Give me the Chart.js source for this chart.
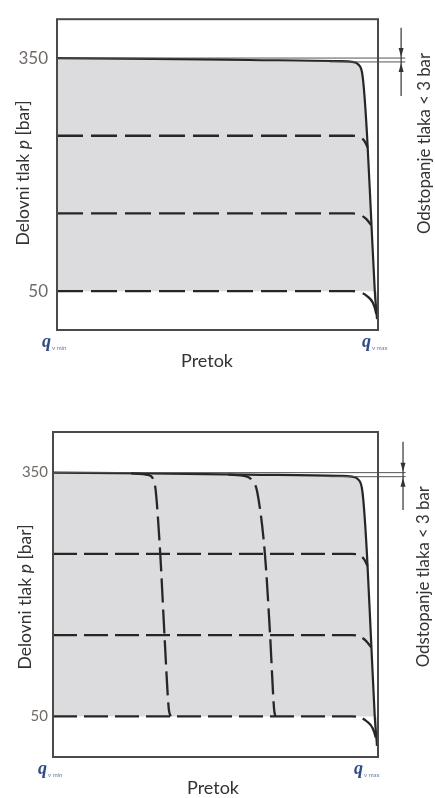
<!DOCTYPE html>
<html>
<head>
<meta charset="utf-8">
<script src="https://cdn.jsdelivr.net/npm/chart.js@4.4.1/dist/chart.umd.min.js"></script>
<style>
  body { margin: 0; background: #fff; }
  canvas { position: absolute; left: 0; }
  #c1 { top: 0; }
  #c2 { top: 400px; }
</style>
</head>
<body>
<canvas id="c1" width="435" height="390"></canvas>
<canvas id="c2" width="435" height="398"></canvas>
<script>
// pressure axis (bar) and flow axis (% of q_v max)
const yTicks = [50, 350];
const xTicks = [0, 100];
const xTickSubs = ['v min', 'v max'];

// main envelope (solid), same shape on both charts
const envX = [0, 30, 60, 88, 92, 93.8, 95, 95.6, 96.6, 97.8, 99, 99.7];
const envY = [350, 349, 347.5, 346, 345, 342, 332, 311, 250, 150, 50, 14];

// dashed pressure levels
const lvl250X = [0, 92, 94.5, 95.8, 96.8];
const lvl250Y = [250, 250, 248, 243, 235];
const lvl150X = [0, 92, 94.5, 96.3, 97.9];
const lvl150Y = [150, 150, 148, 143, 135];
const lvl50X = [0, 92, 94.5, 96.5, 98.4, 99.4, 99.7];
const lvl50Y = [50, 50, 48.5, 44, 35, 22, 14];

// dashed flow limits (bottom chart only)
const flow1X = [24, 29.5, 31, 31.6, 33, 34.3, 35.6, 36.2];
const flow1Y = [349, 347, 340, 328, 250, 150, 60, 50];
const flow2X = [54, 59.5, 61.5, 62.8, 65.2, 66.8, 68, 68.4];
const flow2Y = [347.5, 345.5, 339, 327, 250, 150, 60, 50];

// deviation band (< 3 bar)
const bandHighX = [0, 108.5];
const bandHighY = [350, 350];
const bandLowX = [85, 108.5];
const bandLowY = [345, 345];

const pts = (xs, ys) => xs.map((x, i) => ({ x: x, y: ys[i] }));

const decor = {
  id: 'decor',
  afterDatasetsDraw(chart, args, o) {
    const { ctx, chartArea: a, scales: { x, y } } = chart;
    ctx.save();
    // frame
    ctx.strokeStyle = '#4a4a4a';
    ctx.lineWidth = 2;
    ctx.strokeRect(a.left, a.top, a.right - a.left, a.bottom - a.top);

    // deviation marker with arrows
    const ax = x.getPixelForValue(o.arrowX);
    const yHi = y.getPixelForValue(bandHighY[0]);
    const yLo = y.getPixelForValue(bandLowY[0]);
    ctx.strokeStyle = '#333';
    ctx.fillStyle = '#333';
    ctx.lineWidth = 1.2;
    ctx.beginPath();
    ctx.moveTo(ax, y.getPixelForValue(o.arrowTop));
    ctx.lineTo(ax, y.getPixelForValue(o.arrowBottom));
    ctx.stroke();
    ctx.beginPath();
    ctx.moveTo(ax, yHi - 1); ctx.lineTo(ax - 2.5, yHi - 10); ctx.lineTo(ax + 2.5, yHi - 10);
    ctx.closePath(); ctx.fill();
    ctx.beginPath();
    ctx.moveTo(ax, yLo + 1); ctx.lineTo(ax - 2.5, yLo + 10); ctx.lineTo(ax + 2.5, yLo + 10);
    ctx.closePath(); ctx.fill();

    // x title
    ctx.fillStyle = '#333';
    ctx.textAlign = 'center';
    ctx.textBaseline = 'middle';
    ctx.font = '18px Lato';
    ctx.fillText('Pretok', o.xTitleX, a.bottom + 31);

    // q_v min / q_v max
    xTicks.forEach((v, i) => {
      const px = x.getPixelForValue(v) - o.qShift[i];
      ctx.textAlign = 'left';
      ctx.textBaseline = 'alphabetic';
      ctx.fillStyle = '#2e4a8e';
      ctx.font = 'italic bold 18px "Liberation Serif"';
      ctx.fillText('q', px, a.bottom + 17);
      const w = ctx.measureText('q').width;
      ctx.fillStyle = '#6b7aa8';
      ctx.font = '6px Lato';
      ctx.fillText(xTickSubs[i], px + w + 1, a.bottom + 20);
    });

    // y title with italic p
    const parts = [['Delovni tlak ', ''], ['p', 'italic '], [' [bar]', '']];
    ctx.save();
    ctx.translate(o.yTitleX, o.yTitleY);
    ctx.rotate(-Math.PI / 2);
    ctx.fillStyle = '#333';
    ctx.textBaseline = 'middle';
    ctx.textAlign = 'left';
    let total = 0;
    parts.forEach(([t, s]) => { ctx.font = s + '17.5px Lato'; total += ctx.measureText(t).width; });
    let cx = -total / 2;
    parts.forEach(([t, s]) => {
      ctx.font = s + '17.5px Lato';
      ctx.fillText(t, cx, 0);
      cx += ctx.measureText(t).width;
    });
    ctx.restore();

    // right label
    ctx.save();
    ctx.translate(o.rightX, y.getPixelForValue(o.rightY));
    ctx.rotate(-Math.PI / 2);
    ctx.fillStyle = '#333';
    ctx.textAlign = 'center';
    ctx.textBaseline = 'middle';
    ctx.font = '16.8px Lato';
    ctx.fillText('Odstopanje tlaka < 3 bar', 0, 0);
    ctx.restore();
    ctx.restore();
  }
};

function makeChart(id, c) {
  const line = (xs, ys, extra) => Object.assign({
    data: pts(xs, ys),
    borderColor: '#262626',
    borderWidth: 2.3,
    pointRadius: 0,
    fill: false,
    order: 0,
    cubicInterpolationMode: 'monotone'
  }, extra);

  const datasets = [
    line(envX, envY, { fill: { value: 50 }, backgroundColor: '#dcdcde', borderWidth: 2.2, order: 10 }),
    line(lvl250X, lvl250Y, { borderDash: c.dash }),
    line(lvl150X, lvl150Y, { borderDash: c.dash }),
    line(lvl50X, lvl50Y, { borderDash: c.dash })
  ];
  c.extra.forEach(([xs, ys]) => datasets.push(line(xs, ys, { borderDash: c.dash })));
  datasets.push(line(bandHighX, bandHighY, { borderColor: '#555', borderWidth: 1, clip: false, cubicInterpolationMode: 'default', tension: 0 }));
  datasets.push(line(bandLowX, bandLowY, { borderColor: '#555', borderWidth: 1, clip: false, cubicInterpolationMode: 'default', tension: 0 }));

  return new Chart(document.getElementById(id), {
    type: 'line',
    data: { datasets: datasets },
    plugins: [decor],
    options: {
      responsive: false,
      animation: false,
      layout: { padding: { left: 0, right: 57, top: c.top, bottom: c.bottom } },
      scales: {
        x: { type: 'linear', min: 0, max: 100, display: false },
        y: {
          min: 0, max: 400,
          afterBuildTicks: s => { s.ticks = yTicks.map(v => ({ value: v })); },
          afterFit: s => { s.width = c.left; },
          grid: { display: false, drawTicks: false },
          border: { display: false },
          ticks: { color: '#6f6a66', font: { family: 'Lato', size: c.tickSize }, padding: c.left - 48 }
        }
      },
      plugins: {
        legend: { display: false },
        tooltip: { enabled: false },
        filler: { drawTime: 'beforeDatasetsDraw' },
        decor: c.decor
      }
    }
  });
}

makeChart('c1', {
  top: 10, bottom: 60, left: 57, tickSize: 17, dash: [26, 8], extra: [],
  decor: { arrowX: 107.2, arrowTop: 389, arrowBottom: 301,
    xTitleX: 207, yTitleX: 23, yTitleY: 173, rightX: 425, rightY: 240, qShift: [15, 16] }
});

makeChart('c2', {
  top: 32, bottom: 41, left: 53, tickSize: 15, dash: [24, 7],
  extra: [[flow1X, flow1Y], [flow2X, flow2Y]],
  decor: { arrowX: 107.7, arrowTop: 388, arrowBottom: 304,
    xTitleX: 213, yTitleX: 25, yTitleY: 197, rightX: 424, rightY: 222, qShift: [15, 24] }
});
</script>
</body>
</html>
